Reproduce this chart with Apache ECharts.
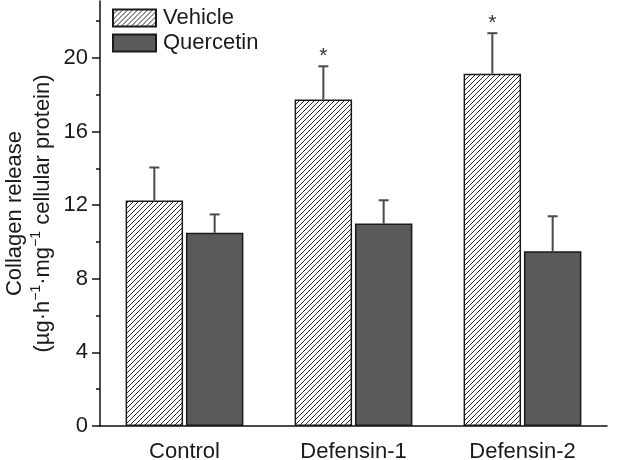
<!DOCTYPE html>
<html>
<head>
<meta charset="utf-8">
<script src="https://cdn.jsdelivr.net/npm/echarts@6/dist/echarts.min.js"></script>
<style>
html,body{margin:0;padding:0;background:#fff;}
#c{width:624px;height:460px;}
</style>
</head>
<body>
<div id="c"></div>
<script>
const categories = ['Control', 'Defensin-1', 'Defensin-2'];
const vehicle = [12.25, 17.75, 19.15];
const vehicleErr = [1.8, 1.8, 2.2];
const quercetin = [10.5, 11.0, 9.5];
const quercetinErr = [1.0, 1.27, 1.9];
const significance = ['', '*', '*'];
const majorTicks = [0, 4, 8, 12, 16, 20];
const minorTicks = [2, 6, 10, 14, 18, 22];

const FONT = '"Liberation Sans", Arial, Helvetica, sans-serif';
const TXT = '#1a1a1a';

// hatch pattern
const tile = document.createElement('canvas');
tile.width = 5; tile.height = 5;
const g = tile.getContext('2d');
g.fillStyle = '#fff';
g.fillRect(0, 0, 5, 5);
g.strokeStyle = '#2a2a2a';
g.lineWidth = 1;
g.beginPath();
g.moveTo(-1, 6); g.lineTo(6, -1);
g.moveTo(-1, 1); g.lineTo(1, -1);
g.moveTo(4, 6); g.lineTo(6, 4);
g.stroke();

const BAR_W = 0.34, BAR_GAP = 0.05;

function errData(vals, errs, sign) {
  return vals.map((v, i) => [i, v, errs[i], sign]);
}

function renderErr(params, api) {
  const i = api.value(0);
  const v = api.value(1);
  const e = api.value(2);
  const sign = api.value(3);
  const band = api.size([1, 0])[0];
  const off = sign * band * BAR_W * (1 + BAR_GAP) / 2;
  const p0 = api.coord([i, v]);
  const p1 = api.coord([i, v + e]);
  const x = p0[0] + off;
  const children = [
    {type: 'line', shape: {x1: x, y1: p0[1], x2: x, y2: p1[1]}, style: {stroke: '#4a4a4a', lineWidth: 2}},
    {type: 'line', shape: {x1: x - 5, y1: p1[1], x2: x + 5, y2: p1[1]}, style: {stroke: '#4a4a4a', lineWidth: 2}}
  ];
  const sigTxt = params.seriesName === 'errV' ? significance[params.dataIndex] : '';
  if (sigTxt) {
    children.push({type: 'text', style: {text: sigTxt, x: x, y: p1[1] - 10, align: 'center', verticalAlign: 'middle', fontSize: 21, fontFamily: FONT, fill: '#333'}});
  }
  return {type: 'group', children: children};
}

const chart = echarts.init(document.getElementById('c'), null, {renderer: 'canvas'});
chart.setOption({
  animation: false,
  backgroundColor: '#fff',
  textStyle: {fontFamily: FONT},
  grid: {left: 100, right: 17, top: 1, bottom: 34, containLabel: false, outerBoundsMode: 'none'},
  legend: {
    data: ['Vehicle', 'Quercetin'],
    orient: 'vertical',
    left: 107, top: 2,
    itemWidth: 43, itemHeight: 17, itemGap: 3,
    icon: 'rect',
    textStyle: {fontSize: 22, color: TXT, fontFamily: FONT, padding: [0, 0, 0, 2]}
  },
  xAxis: [{
    type: 'category', data: categories,
    axisLine: {lineStyle: {color: '#111', width: 1.5}},
    axisTick: {alignWithLabel: false, length: 6, lineStyle: {color: '#111', width: 1.5}},
    axisLabel: {fontSize: 22, color: TXT, margin: 15, fontFamily: FONT}
  }, {
    type: 'category', data: categories, position: 'bottom',
    axisLine: {show: false},
    axisTick: {alignWithLabel: true, length: 8, lineStyle: {color: '#111', width: 1.5}},
    axisLabel: {show: false}
  }],
  yAxis: [{
    type: 'value', min: 0, max: 23.1, interval: 4,
    splitLine: {show: false},
    axisLine: {show: true, lineStyle: {color: '#111', width: 1.5}},
    axisTick: {show: true, length: 8, customValues: majorTicks, lineStyle: {color: '#111', width: 1.5}},
    axisLabel: {fontSize: 22, color: TXT, margin: 12, customValues: majorTicks, fontFamily: FONT},
    name: '{a|Collagen release}\n{a|(µg·h}{s|−1}{a|·mg}{s|−1}{a| cellular protein)}',
    nameLocation: 'middle',
    nameGap: 43,
    nameMoveOverlap: false,
    nameRotate: 90,
    nameTextStyle: {
      color: TXT, fontFamily: FONT, lineHeight: 28,
      rich: {
        a: {fontSize: 22, color: TXT, fontFamily: FONT, lineHeight: 28},
        s: {fontSize: 14, color: TXT, fontFamily: FONT, lineHeight: 28, verticalAlign: 'top', padding: [0, 0, 6, 0]}
      }
    }
  }, {
    type: 'value', min: 0, max: 23.1, interval: 4, position: 'left', offset: 0,
    splitLine: {show: false},
    axisLine: {show: false},
    axisTick: {show: true, length: 4, customValues: minorTicks, lineStyle: {color: '#111', width: 1.5}},
    axisLabel: {show: false}
  }],
  series: [{
    name: 'Vehicle', type: 'bar', data: vehicle,
    barWidth: (BAR_W * 100) + '%', barGap: (BAR_GAP * 100) + '%',
    itemStyle: {color: {image: tile, repeat: 'repeat'}, borderColor: '#1a1a1a', borderWidth: 1.5}
  }, {
    name: 'Quercetin', type: 'bar', data: quercetin,
    barWidth: (BAR_W * 100) + '%', barGap: (BAR_GAP * 100) + '%',
    itemStyle: {color: '#5a5a5a', borderColor: '#1a1a1a', borderWidth: 1.5}
  }, {
    name: 'errV', type: 'custom', renderItem: renderErr,
    data: errData(vehicle, vehicleErr, -1), z: 3, silent: true
  }, {
    name: 'errQ', type: 'custom', renderItem: renderErr,
    data: errData(quercetin, quercetinErr, 1), z: 3, silent: true
  }]
});
</script>
</body>
</html>
